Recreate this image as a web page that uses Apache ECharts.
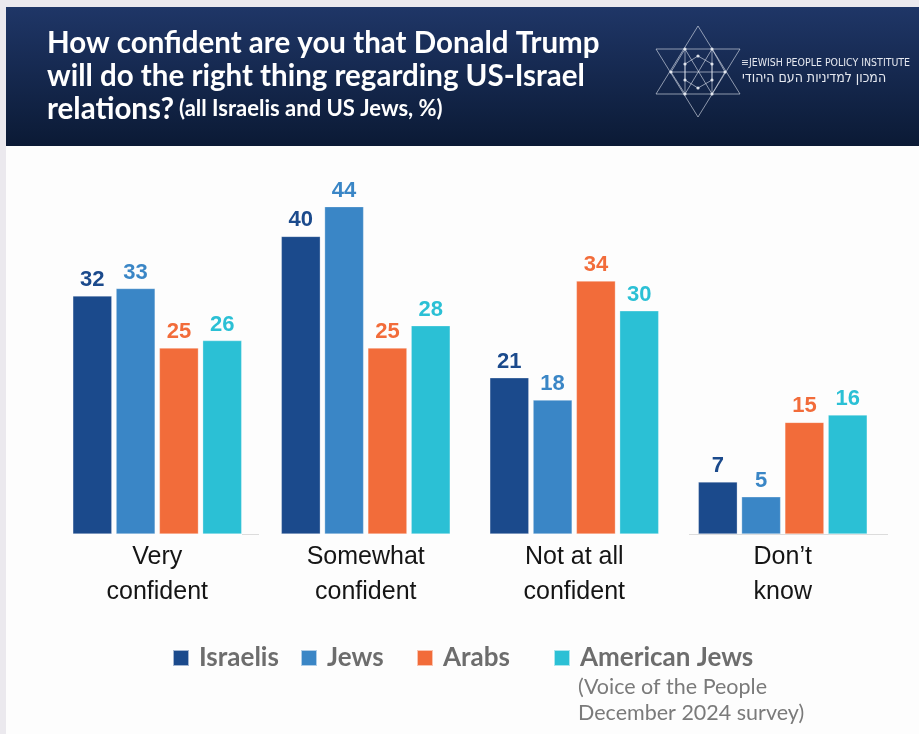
<!DOCTYPE html>
<html>
<head>
<meta charset="utf-8">
<style>
  html, body { margin: 0; padding: 0; background: #ebe9ee; }
  #chart { width: 919px; height: 734px; }
</style>
<script src="https://cdn.jsdelivr.net/npm/echarts@6/dist/echarts.min.js"></script>
</head>
<body>
<div id="chart"></div>
<script>
// Survey answers (percent)
const categories = ['Very\nconfident', 'Somewhat\nconfident', 'Not at all\nconfident', 'Don\u2019t\nknow'];
const seriesNames = ['Israelis', 'Jews', 'Arabs', 'American Jews'];
const israelis = [32, 40, 21, 7];
const jews = [33, 44, 18, 5];
const arabs = [25, 25, 34, 15];
const americanJews = [26, 28, 30, 16];
const seriesColors = ['#1b4a8c', '#3a86c6', '#f26c3a', '#2bc0d5'];

const seriesValues = [israelis, jews, arabs, americanJews];

const chart = echarts.init(document.getElementById('chart'), null, { renderer: 'canvas' });

const series = seriesNames.map((name, i) => ({
  name: name,
  type: 'bar',
  data: seriesValues[i],
  barWidth: 39,
  barGap: '11%',
  itemStyle: { color: seriesColors[i], borderColor: 'rgba(255,255,255,0.6)', borderWidth: 0.5 },
  label: {
    show: true,
    position: 'top',
    distance: 5,
    color: seriesColors[i],
    fontFamily: 'Liberation Sans, Arial, sans-serif',
    fontWeight: 'bold',
    fontSize: 22
  }
}));

// legend: one component per entry so the spacing can be set freely
const legendLefts = [172, 300, 416, 553];
const legends = seriesNames.map((name, i) => ({
  data: [name],
  left: legendLefts[i],
  top: 645,
  padding: 0,
  icon: 'rect',
  itemWidth: 16,
  itemHeight: 16,
  itemGap: 0,
  textStyle: {
    color: '#6d6d6d',
    fontFamily: 'Lato, sans-serif',
    fontWeight: 'bold',
    fontSize: 26,
    padding: [0, 0, 0, 5]
  }
}));

// star-of-David emblem in the header
const starLines = [
  [[698, 26], [656, 94]], [[656, 94], [740, 94]], [[740, 94], [698, 26]],
  [[698, 117], [656, 49]], [[656, 49], [740, 49]], [[740, 49], [698, 117]],
  [[685, 49], [685, 94]], [[712, 49], [712, 94]],
  [[671, 72], [685, 49]], [[671, 72], [685, 94]], [[725, 72], [712, 49]], [[725, 72], [712, 94]],
  [[698, 56], [685, 64]], [[698, 56], [712, 64]], [[685, 64], [685, 80]], [[712, 64], [712, 80]],
  [[685, 80], [698, 88]], [[712, 80], [698, 88]],
  [[671, 72], [725, 72]], [[685, 49], [712, 94]], [[712, 49], [685, 94]]
];
const emblem = starLines.map(l => ({
  type: 'line',
  shape: { x1: l[0][0], y1: l[0][1], x2: l[1][0], y2: l[1][1] },
  style: { stroke: 'rgba(225,230,240,0.75)', lineWidth: 0.8 }
}));
const nodes = [[685, 49], [712, 49], [671, 72], [725, 72], [685, 94], [712, 94], [698, 56], [698, 88], [685, 64], [712, 64], [685, 80], [712, 80]];
nodes.forEach(p => emblem.push({
  type: 'circle',
  shape: { cx: p[0], cy: p[1], r: 1.6 },
  style: { fill: 'rgba(235,238,245,0.9)' }
}));

chart.setOption({
  backgroundColor: '#ebe9ee',
  animation: false,
  graphic: [
    { type: 'rect', shape: { x: 6, y: 146, width: 913, height: 588 }, style: { fill: '#fdfdfd' }, z: -10 },
    {
      type: 'rect', shape: { x: 6, y: 7, width: 913, height: 139 },
      style: {
        fill: new echarts.graphic.LinearGradient(0, 0, 0, 1, [
          { offset: 0, color: '#1f3667' },
          { offset: 1, color: '#0b1a35' }
        ])
      }
    },
    {
      type: 'text', left: 47, top: 27,
      style: {
        text: 'How confident are you that Donald Trump\nwill do the right thing regarding US-Israel',
        fill: '#ffffff', fontFamily: 'Lato, sans-serif', fontWeight: 'bold', fontSize: 29.5, lineHeight: 33
      }
    },
    {
      type: 'text', left: 47, top: 94,
      style: {
        rich: {
          a: { fill: '#ffffff', fontFamily: 'Lato, sans-serif', fontWeight: 'bold', fontSize: 29.5 },
          b: { fill: '#ffffff', fontFamily: 'Lato, sans-serif', fontWeight: 'bold', fontSize: 22, padding: [0, 0, 0, 5] }
        },
        text: '{a|relations?}{b|(all Israelis and US Jews, %)}'
      }
    },
    ...emblem,
    {
      type: 'text', left: 741, top: 58,
      style: {
        text: '\u2261JEWISH PEOPLE POLICY INSTITUTE', fill: '#e6e9f0',
        fontFamily: 'Liberation Sans Narrow, DejaVu Sans Condensed, sans-serif', fontSize: 10.5
      }
    },
    {
      type: 'text', left: 742, top: 71,
      style: {
        text: '\u05d4\u05de\u05db\u05d5\u05df \u05dc\u05de\u05d3\u05d9\u05e0\u05d9\u05d5\u05ea \u05d4\u05e2\u05dd \u05d4\u05d9\u05d4\u05d5\u05d3\u05d9',
        fill: '#e6e9f0', fontFamily: 'DejaVu Sans Condensed, DejaVu Sans, sans-serif', fontSize: 14
      }
    },
    { type: 'line', shape: { x1: 242, y1: 534.5, x2: 259, y2: 534.5 }, style: { stroke: '#dcdcdc', lineWidth: 1 } },
    { type: 'line', shape: { x1: 689, y1: 534.5, x2: 888, y2: 534.5 }, style: { stroke: '#dcdcdc', lineWidth: 1 } },
    {
      type: 'text', left: 578, top: 674,
      style: {
        text: '(Voice of the People\nDecember 2024 survey)',
        fill: '#7a7a7a', fontFamily: 'Lato, sans-serif', fontSize: 21.5, lineHeight: 26
      }
    }
  ],
  legend: legends,
  grid: { left: 53, right: 32, top: 162, bottom: 200, containLabel: false },
  xAxis: {
    type: 'category',
    data: categories,
    axisLine: { show: false },
    axisTick: { show: false },
    axisLabel: {
      color: '#151515',
      fontFamily: 'Liberation Sans, sans-serif',
      fontSize: 25,
      lineHeight: 35,
      margin: 6
    }
  },
  yAxis: {
    type: 'value',
    min: 0,
    max: 50,
    show: false,
    splitLine: { show: false }
  },
  series: series
});
</script>
</body>
</html>
